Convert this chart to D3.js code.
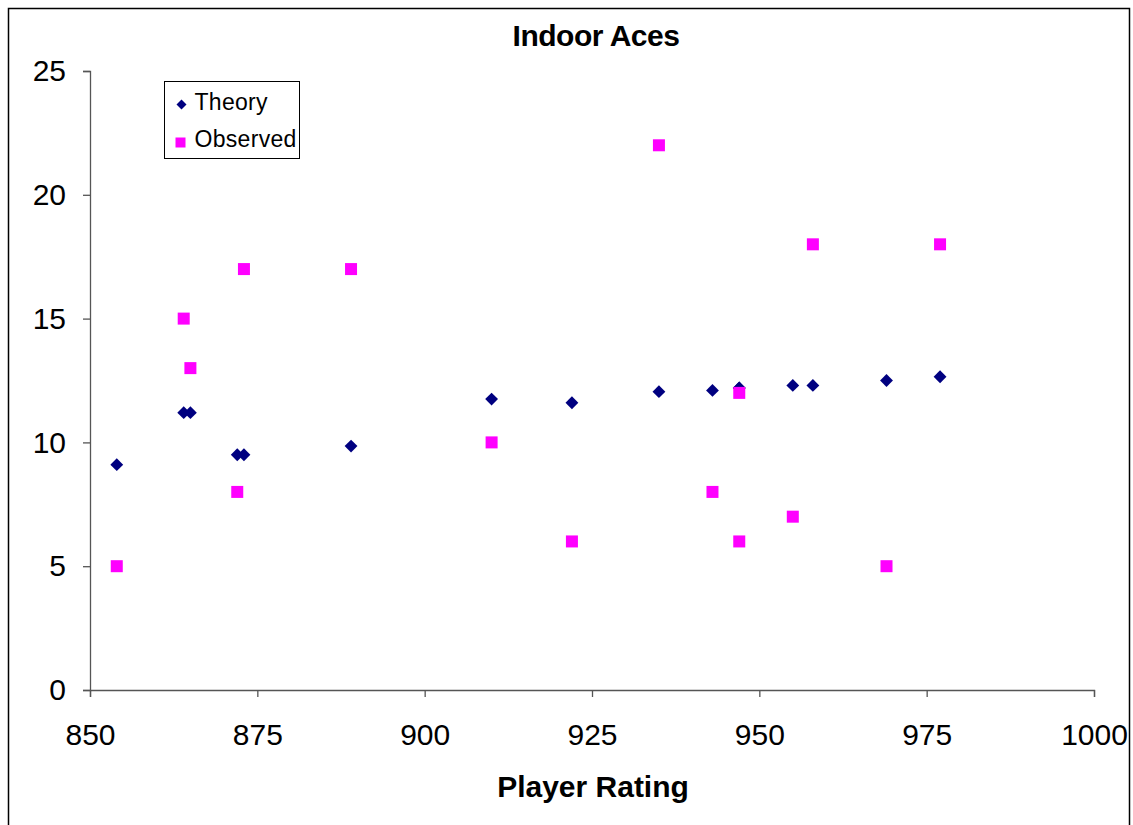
<!DOCTYPE html>
<html>
<head>
<meta charset="utf-8">
<script src="https://cdn.jsdelivr.net/npm/d3@7"></script>
<style>
    body { margin: 0; background: #fff; }
    text { font-family: "Liberation Sans", Arial, sans-serif; }
</style>
</head>
<body>
<div id="chart"></div>
<script>
// player ratings and aces per series
var theoryRating   = [854, 864, 865, 872, 873, 889, 910, 922, 935, 943, 947, 947, 955, 958, 969, 977];
var theoryAces     = [9.1, 11.2, 11.2, 9.5, 9.5, 9.85, 11.75, 11.6, 12.05, 12.1, 12.2, 12.2, 12.3, 12.3, 12.5, 12.65];
var observedRating = [854, 864, 865, 872, 873, 889, 910, 922, 935, 943, 947, 947, 955, 958, 969, 977];
var observedAces   = [5, 15, 13, 8, 17, 17, 10, 6, 22, 8, 12, 6, 7, 18, 5, 18];
var xTicks = [850, 875, 900, 925, 950, 975, 1000];
var yTicks = [0, 5, 10, 15, 20, 25];

var width = 1133, height = 825;
var margin = { top: 71, right: 39, bottom: 135, left: 90 };

var svg = d3.select("#chart")
    .append("svg")
    .attr("width", width)
    .attr("height", height);

// outer chart border
svg.append("rect")
    .attr("x", 8.5).attr("y", 8.5)
    .attr("width", 1121).attr("height", 830)
    .attr("fill", "none")
    .attr("stroke", "#000")
    .attr("stroke-width", 1.5);

var x = d3.scaleLinear().domain([850, 1000]).range([margin.left, width - margin.right]);
var y = d3.scaleLinear().domain([0, 25]).range([height - margin.bottom, margin.top]);

var xAxis = svg.append("g")
    .attr("transform", "translate(0," + y(0) + ")")
    .call(d3.axisBottom(x).tickValues(xTicks).tickSize(7).tickPadding(27).tickFormat(d3.format("d")));

var yAxis = svg.append("g")
    .attr("transform", "translate(" + x(850) + ",0)")
    .call(d3.axisLeft(y).tickValues(yTicks).tickSize(7).tickPadding(17).tickFormat(d3.format("d")));

[xAxis, yAxis].forEach(function(ax) {
    ax.select(".domain").attr("stroke", "#555").attr("stroke-width", 1.3);
    ax.selectAll(".tick line").attr("stroke", "#555").attr("stroke-width", 1.3);
    ax.selectAll(".tick text")
        .attr("fill", "#000")
        .style("font-size", "30px")
        .style("font-family", "Liberation Sans, Arial, sans-serif");
});

var theory = theoryRating.map(function(r, i) { return { x: r, y: theoryAces[i] }; });
var observed = observedRating.map(function(r, i) { return { x: r, y: observedAces[i] }; });

svg.append("g").selectAll("path")
    .data(theory)
    .enter().append("path")
    .attr("d", d3.symbol().type(d3.symbolDiamond2).size(105))
    .attr("transform", function(d) { return "translate(" + x(d.x) + "," + y(d.y) + ")"; })
    .attr("fill", "#000080");

svg.append("g").selectAll("rect")
    .data(observed)
    .enter().append("rect")
    .attr("x", function(d) { return x(d.x) - 6; })
    .attr("y", function(d) { return y(d.y) - 6; })
    .attr("width", 12).attr("height", 12)
    .attr("fill", "#ff00ff");

// title
svg.append("text")
    .text("Indoor Aces")
    .attr("x", 596).attr("y", 46)
    .attr("text-anchor", "middle")
    .style("font-size", "30px")
    .style("font-weight", "bold")
    .style("letter-spacing", "-0.5px");

svg.append("text")
    .text("Player Rating")
    .attr("x", 593).attr("y", 797)
    .attr("text-anchor", "middle")
    .style("font-size", "30px")
    .style("font-weight", "bold");

// legend
var legend = svg.append("g").attr("transform", "translate(164.5,81.5)");
legend.append("rect")
    .attr("width", 135).attr("height", 77)
    .attr("fill", "#fff").attr("stroke", "#000").attr("stroke-width", 1);
legend.append("path")
    .attr("d", d3.symbol().type(d3.symbolDiamond2).size(64))
    .attr("transform", "translate(17,23)")
    .attr("fill", "#000080");
legend.append("rect")
    .attr("x", 11).attr("y", 56).attr("width", 10).attr("height", 10)
    .attr("fill", "#ff00ff");
legend.append("text").text("Theory")
    .attr("x", 30).attr("y", 28.5)
    .style("font-size", "23px").style("letter-spacing", "0.3px");
legend.append("text").text("Observed")
    .attr("x", 30).attr("y", 65.5)
    .style("font-size", "23px").style("letter-spacing", "0.3px");
</script>
</body>
</html>
